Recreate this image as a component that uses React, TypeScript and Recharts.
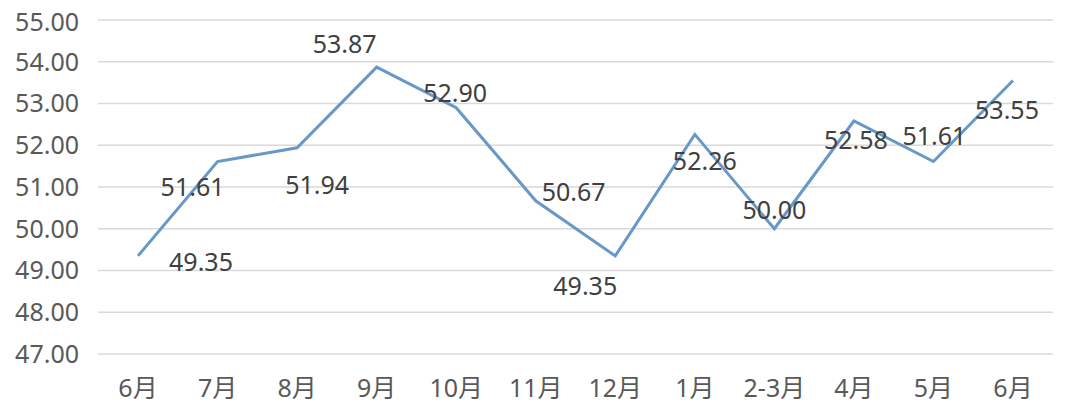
import { LineChart, Line, XAxis, YAxis, CartesianGrid, LabelList } from 'recharts';

const months = ['6月', '7月', '8月', '9月', '10月', '11月', '12月', '1月', '2-3月', '4月', '5月', '6月'];
const values = [49.35, 51.61, 51.94, 53.87, 52.9, 50.67, 49.35, 52.26, 50.0, 52.58, 51.61, 53.55];
const yTicks = [47, 48, 49, 50, 51, 52, 53, 54, 55];

const data = months.map((month, i) => ({ month, value: values[i] }));

// where each data label sits relative to its point (Excel-style manual placement)
const labelShift: [number, number][] = [
    [63, 6], [-25, 25], [20, 37], [-32, -23], [-1, -15], [38, -9],
    [-30, 30], [10, 27], [0, -19], [2, 19], [1, -26], [-6, 29],
];

const font = '"Noto Sans", "Noto Sans CJK SC", sans-serif';

function PointLabel(props: any) {
    const { x, y, value, index } = props;
    const [dx, dy] = labelShift[index] || [0, -15];
    return (
        <text
            x={x + dx}
            y={y + dy + 9}
            textAnchor="middle"
            fill="#404040"
            fontSize={25}
            fontFamily={font}
        >
            {Number(value).toFixed(2)}
        </text>
    );
}

function App() {
    return (
        <LineChart
            width={1058}
            height={406}
            data={data}
            margin={{ top: 12, right: 13, left: 0, bottom: 8 }}
        >
            <CartesianGrid vertical={false} stroke="#d9d9d9" strokeWidth={1.5} />
            <XAxis
                dataKey="month"
                axisLine={false}
                tickLine={false}
                tickSize={0}
                tickMargin={25}
                height={52}
                interval={0}
                padding={{ left: 40, right: 40 }}
                tick={{ fill: '#595959', fontSize: 25, fontFamily: font }}
            />
            <YAxis
                domain={[47, 55]}
                ticks={yTicks}
                width={90}
                axisLine={false}
                tickLine={false}
                tickSize={0}
                tickMargin={19}
                tickFormatter={(v: number) => v.toFixed(2)}
                tick={{ fill: '#595959', fontSize: 25, fontFamily: font }}
            />
            <Line
                type="linear"
                dataKey="value"
                stroke="#6898c8"
                strokeWidth={3}
                dot={false}
                isAnimationActive={false}
            >
                <LabelList dataKey="value" content={<PointLabel />} />
            </Line>
        </LineChart>
    );
}

export default App
